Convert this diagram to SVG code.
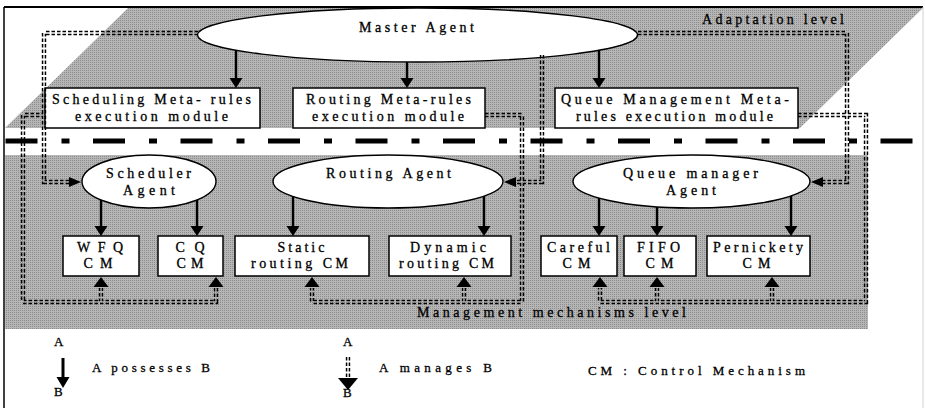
<svg xmlns="http://www.w3.org/2000/svg" xmlns:xlink="http://www.w3.org/1999/xlink" width="925" height="408" viewBox="0 0 925 408">
<style>
.lbl{font-family:"Liberation Serif","Times New Roman",serif;font-size:14px;fill:#000;stroke:#000;stroke-width:0.3;text-anchor:middle}
.leg{font-family:"Liberation Serif","Times New Roman",serif;font-size:13px;fill:#000;stroke:#000;stroke-width:0.3}
.ne{fill:#fff;stroke:#000;stroke-width:1.4}
.nr{fill:#fff;stroke:#000;stroke-width:1.5}
.solid{stroke:#000;stroke-width:2.4;fill:none;marker-end:url(#ah)}
.dbl{fill:none;stroke:#000;stroke-width:4.4;stroke-dasharray:3.5 2}
.cut{fill:none;stroke:#000;stroke-width:1.4}
</style>
<defs>
<pattern id="dots" width="2" height="2" patternUnits="userSpaceOnUse">
<rect width="2" height="2" fill="#b6b6b6"/>
<rect width="1" height="1" fill="#8c8c8c"/>
</pattern>
<marker id="ah" markerUnits="userSpaceOnUse" markerWidth="12" markerHeight="14" refX="0" refY="6.5" orient="auto">
<path d="M0,0 L10,6.5 L0,13 z" fill="#000"/>
</marker>
<path id="au" d="M0,0 L7.5,10 L-7.5,10 z"/>
<path id="ar" d="M0,0 L-12,-5 L-12,5 z"/>
<path id="al" d="M0,0 L12,-5 L12,5 z"/>
<path id="p1" d="M198,33 H44 V182 H70"/>
<path id="p2" d="M45,115 H23 V302 H216 V288 M101,302 V288"/>
<path id="p3" d="M485,115 H522 V302 H312 V288 M464,302 V288"/>
<path id="p4" d="M542,55 V182 H516"/>
<path id="p5" d="M638,33 H847 V182 H823"/>
<path id="p6" d="M798,115 H866 V302 H600 V288 M657,302 V288 M772,302 V288"/>
<path id="p7" d="M348,357 V378"/>
<mask id="hollow" maskUnits="userSpaceOnUse" x="0" y="0" width="925" height="408">
<rect width="925" height="408" fill="#fff"/>
<g class="cut">
<use xlink:href="#p1"/><use xlink:href="#p2"/><use xlink:href="#p3"/><use xlink:href="#p4"/><use xlink:href="#p5"/><use xlink:href="#p6"/><use xlink:href="#p7"/>
</g>
</mask>
</defs>

<g id="background">
<rect width="925" height="408" fill="#fff"/>
<polygon points="128,8 923,8 800,128 5,128" fill="url(#dots)"/>
<rect x="5" y="155" width="863" height="174" fill="url(#dots)"/>
<line x1="4" y1="7" x2="923" y2="7" stroke="#000" stroke-width="2"/>
<line x1="4" y1="7" x2="4" y2="408" stroke="#000" stroke-width="1.5"/>
<line x1="923" y1="7" x2="923" y2="408" stroke="#d0d0d0" stroke-width="1"/>
<line x1="5.5" y1="141" x2="913" y2="141" stroke="#000" stroke-width="5" stroke-dasharray="32 24 8 23.5"/>
<text class="lbl" x="773" y="24" textLength="142" lengthAdjust="spacing">Adaptation level</text>
<text class="lbl" x="551.5" y="317" textLength="269" lengthAdjust="spacing">Management mechanisms level</text>
</g>

<g id="master-agent">
<ellipse class="ne" cx="417.5" cy="35" rx="220" ry="27"/>
<text class="lbl" x="416.5" y="32" textLength="115" lengthAdjust="spacing">Master Agent</text>
</g>
<g id="scheduling-meta">
<rect class="nr" x="45" y="88" width="215" height="40"/>
<text class="lbl" x="151.5" y="104" textLength="199" lengthAdjust="spacing">Scheduling Meta- rules</text>
<text class="lbl" x="151.5" y="121" textLength="153" lengthAdjust="spacing">execution module</text>
</g>
<g id="routing-meta">
<rect class="nr" x="293" y="88" width="192" height="40"/>
<text class="lbl" x="388.5" y="104" textLength="165" lengthAdjust="spacing">Routing Meta-rules</text>
<text class="lbl" x="388" y="121" textLength="152" lengthAdjust="spacing">execution module</text>
</g>
<g id="queue-meta">
<rect class="nr" x="555" y="88" width="243" height="40"/>
<text class="lbl" x="675" y="104" textLength="228" lengthAdjust="spacing">Queue Management Meta-</text>
<text class="lbl" x="674.5" y="121" textLength="197" lengthAdjust="spacing">rules execution module</text>
</g>
<g id="scheduler-agent">
<ellipse class="ne" cx="149" cy="181.5" rx="67" ry="26.5"/>
<text class="lbl" x="148.5" y="178" textLength="85" lengthAdjust="spacing">Scheduler</text>
<text class="lbl" x="149" y="195" textLength="52" lengthAdjust="spacing">Agent</text>
</g>
<g id="routing-agent">
<ellipse class="ne" cx="388" cy="181.5" rx="115" ry="26.5"/>
<text class="lbl" x="388.5" y="178" textLength="125" lengthAdjust="spacing">Routing Agent</text>
</g>
<g id="queue-agent">
<ellipse class="ne" cx="691.5" cy="181.5" rx="118.5" ry="26.5"/>
<text class="lbl" x="690.5" y="178" textLength="135" lengthAdjust="spacing">Queue manager</text>
<text class="lbl" x="691" y="195" textLength="50" lengthAdjust="spacing">Agent</text>
</g>
<g id="wfq-cm">
<rect class="nr" x="63" y="236" width="76" height="40"/>
<text class="lbl" x="100" y="252" textLength="46" lengthAdjust="spacing">WFQ</text>
<text class="lbl" x="98" y="268" textLength="29" lengthAdjust="spacing">CM</text>
</g>
<g id="cq-cm">
<rect class="nr" x="158" y="236" width="65" height="40"/>
<text class="lbl" x="190" y="252" textLength="29" lengthAdjust="spacing">CQ</text>
<text class="lbl" x="190" y="268" textLength="27" lengthAdjust="spacing">CM</text>
</g>
<g id="static-cm">
<rect class="nr" x="235" y="236" width="134" height="40"/>
<text class="lbl" x="301" y="252" textLength="47" lengthAdjust="spacing">Static</text>
<text class="lbl" x="299.5" y="268" textLength="97" lengthAdjust="spacing">routing CM</text>
</g>
<g id="dynamic-cm">
<rect class="nr" x="389" y="236" width="122" height="40"/>
<text class="lbl" x="448" y="252" textLength="76" lengthAdjust="spacing">Dynamic</text>
<text class="lbl" x="446.5" y="268" textLength="95" lengthAdjust="spacing">routing CM</text>
</g>
<g id="careful-cm">
<rect class="nr" x="541" y="236" width="76" height="40"/>
<text class="lbl" x="578.5" y="252" textLength="63" lengthAdjust="spacing">Careful</text>
<text class="lbl" x="576.5" y="268" textLength="28" lengthAdjust="spacing">CM</text>
</g>
<g id="fifo-cm">
<rect class="nr" x="624" y="236" width="72" height="40"/>
<text class="lbl" x="658.5" y="252" textLength="43" lengthAdjust="spacing">FIFO</text>
<text class="lbl" x="659.5" y="268" textLength="28" lengthAdjust="spacing">CM</text>
</g>
<g id="pernickety-cm">
<rect class="nr" x="707" y="236" width="103" height="40"/>
<text class="lbl" x="758" y="252" textLength="90" lengthAdjust="spacing">Pernickety</text>
<text class="lbl" x="756.5" y="268" textLength="28" lengthAdjust="spacing">CM</text>
</g>

<g id="connectors">
<g id="possesses">
<line class="solid" x1="236" y1="50" x2="236" y2="78"/>
<line class="solid" x1="407" y1="62" x2="407" y2="78"/>
<line class="solid" x1="599" y1="50" x2="599" y2="78"/>
<line class="solid" x1="101" y1="200" x2="101" y2="226"/>
<line class="solid" x1="197" y1="200" x2="197" y2="226"/>
<line class="solid" x1="293" y1="196" x2="293" y2="226"/>
<line class="solid" x1="484" y1="196" x2="484" y2="226"/>
<line class="solid" x1="599" y1="198" x2="599" y2="226"/>
<line class="solid" x1="657" y1="207" x2="657" y2="226"/>
<line class="solid" x1="791" y1="196" x2="791" y2="226"/>
</g>
<g id="manages">
<g class="dbl" mask="url(#hollow)">
<use xlink:href="#p1"/><use xlink:href="#p2"/><use xlink:href="#p3"/><use xlink:href="#p4"/><use xlink:href="#p5"/><use xlink:href="#p6"/>
</g>
<g fill="#000">
<use xlink:href="#ar" x="81" y="182"/>
<use xlink:href="#al" x="504" y="182"/>
<use xlink:href="#al" x="811" y="182"/>
<use xlink:href="#au" x="101" y="277"/>
<use xlink:href="#au" x="216" y="277"/>
<use xlink:href="#au" x="312" y="277"/>
<use xlink:href="#au" x="464" y="277"/>
<use xlink:href="#au" x="600" y="277"/>
<use xlink:href="#au" x="657" y="277"/>
<use xlink:href="#au" x="772" y="277"/>
</g>
</g>
</g>

<g id="legend">
<text class="leg" x="54" y="346">A</text>
<line x1="63" y1="358" x2="63" y2="378" stroke="#000" stroke-width="3"/>
<polygon points="56.5,377 69.5,377 63,388" fill="#000"/>
<text class="leg" x="54" y="396">B</text>
<text class="leg" x="92" y="372" textLength="118" lengthAdjust="spacing">A possesses B</text>
<text class="leg" x="343" y="346">A</text>
<use xlink:href="#p7" class="dbl" mask="url(#hollow)"/>
<polygon points="338,378 358,378 348,390" fill="#000"/>
<text class="leg" x="343" y="397">B</text>
<text class="leg" x="379" y="372" textLength="113" lengthAdjust="spacing">A manages B</text>
<text class="leg" x="588" y="375" textLength="217" lengthAdjust="spacing">CM : Control Mechanism</text>
</g>
</svg>
